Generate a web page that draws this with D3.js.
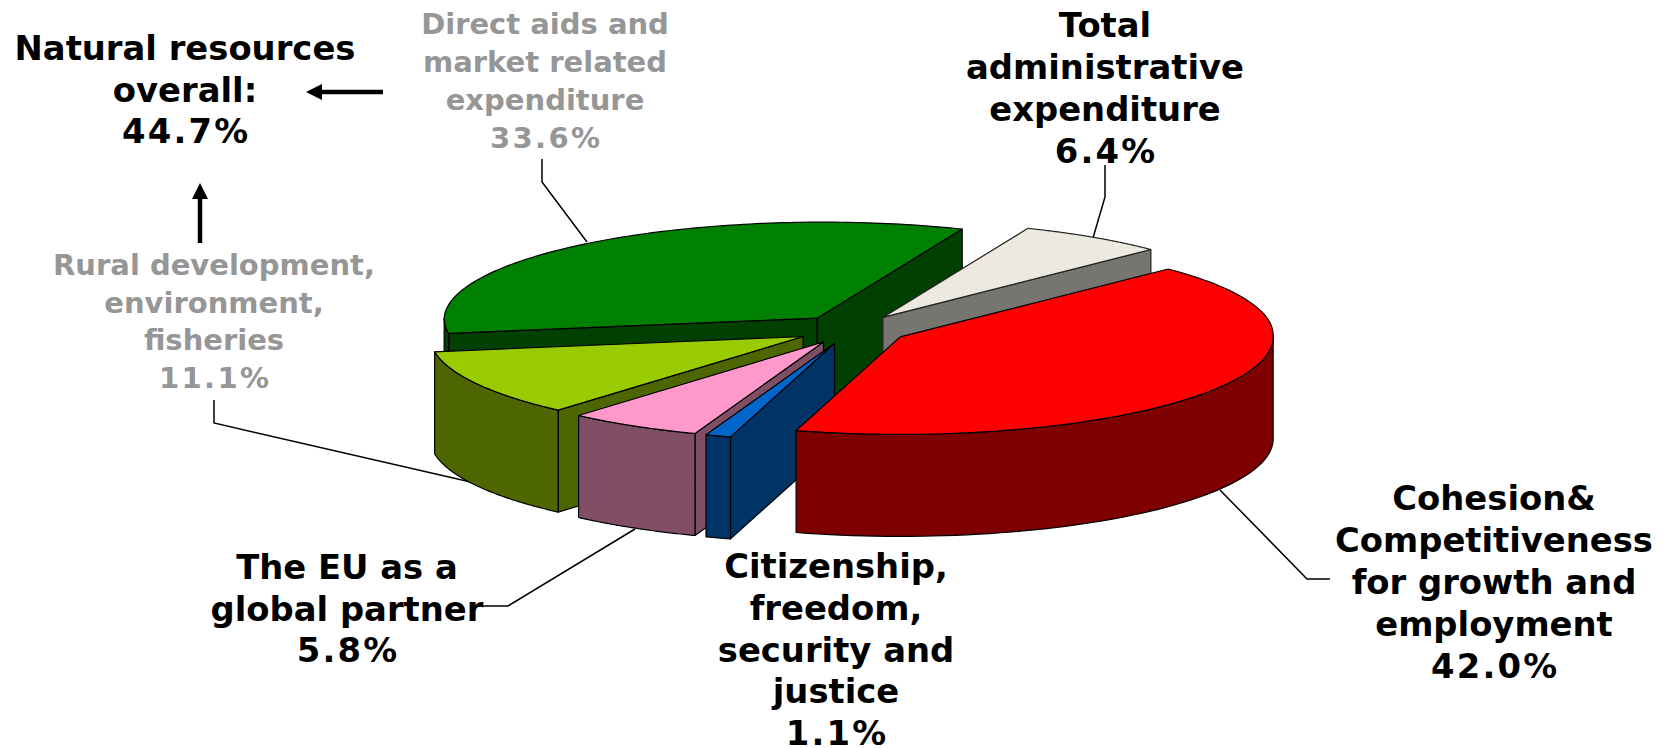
<!DOCTYPE html>
<html>
<head>
<meta charset="utf-8">
<script src="https://cdnjs.cloudflare.com/ajax/libs/d3/7.8.5/d3.min.js"></script>
<style>
html,body{margin:0;padding:0;background:#fff;}
svg{display:block;}
text{font-family:"DejaVu Sans",Verdana,sans-serif;font-weight:bold;text-anchor:middle;}
</style>
</head>
<body>
<svg id="c" width="1669" height="748"></svg>
<script>
// ---- data ----
const categories = [
  "Cohesion& Competitiveness for growth and employment",
  "Citizenship, freedom, security and justice",
  "The EU as a global partner",
  "Rural development, environment, fisheries",
  "Direct aids and market related expenditure",
  "Total administrative expenditure"
];
const values = [42.0, 1.1, 5.8, 11.1, 33.6, 6.4];
const overallLabel = ["Natural resources", "overall:"];
const overallValue = 44.7;
const labelLines = [
  ["Cohesion&", "Competitiveness", "for growth and", "employment"],
  ["Citizenship,", "freedom,", "security and", "justice"],
  ["The EU as a", "global partner"],
  ["Rural development,", "environment,", "fisheries"],
  ["Direct aids and", "market related", "expenditure"],
  ["Total", "administrative", "expenditure"]
];
// ---- styles ----
const topColors  = ["#ff0000", "#0066cc", "#ff99cc", "#99cc00", "#008000", "#eceadf"];
const sideColors = ["#7f0000", "#003366", "#804f66", "#4d6600", "#004000", "#767570"];
const textColors = ["#000", "#000", "#000", "#969696", "#969696", "#000"];
// ---- layout ----
const W = 1669, H = 748;
const cx = 852, cy = 329.5, rx = 373, ryBack = 96, ryFront = 97.5, depth = 102, explode = 0.15;
const backShift = 6;
const labelBoxes = [
  {x:1494, y:510, lh:42},
  {x:836,  y:578, lh:41.8},
  {x:347,  y:579, lh:41.5},
  {x:214,  y:275, lh:37.7, size:29},
  {x:545,  y:34,  lh:38,   size:29},
  {x:1105, y:37,  lh:42}
];
const leaders = [
  [[1220,490],[1307,579],[1330,579]],
  [[483,606],[508,606],[635,529]],
  [[214,400],[214,423],[475,483]],
  [[542,159],[542,182],[587,242]],
  [[1105,165],[1105,197],[1093,238]]
];
const deg = d3.scaleLinear().domain([0,360]).range([0,2*Math.PI]);
const svg = d3.select("#c");
const line = d3.line();
const pie = d3.pie().sort(null).startAngle(deg(45)).endAngle(deg(405));
const arcs = pie(values);

// leader lines go underneath the pie
svg.append("g").selectAll("path").data(leaders).join("path")
  .attr("d", d => line(d)).attr("fill","none").attr("stroke","#000").attr("stroke-width",1.5);

// project a ground-plane point (pie angle) on the picture, slice pulled out along its middle
function projector(d){
  const mid = (d.startAngle + d.endAngle)/2;
  const ox = rx*explode*Math.sin(mid), oy = -(ryBack+ryFront)/2*explode*Math.cos(mid);
  const apex = [cx + ox, cy + oy];
  const p = (a) => {
    const c = Math.cos(a);
    const ry = c > 0 ? ryBack : ryFront;
    return [apex[0] + rx*Math.sin(a) + backShift*Math.max(0,c), apex[1] - ry*c];
  };
  return {apex, p};
}
const drawOrder = [4, 5, 3, 2, 1, 0];
const g = svg.append("g").attr("stroke-linejoin","round");
drawOrder.forEach(i => {
  const d = arcs[i], {apex, p} = projector(d);
  const down = q => [q[0], q[1] + depth];
  const slice = g.append("g");
  const stroke = i === 5 ? "#222" : "#000";
  const paint = (path, fill) => slice.append("path").attr("d", path).attr("fill", fill)
      .attr("stroke", stroke).attr("stroke-width", 1.2);

  // cut faces that look toward the viewer
  if (Math.sin(d.startAngle) < 0) {
    const e = p(d.startAngle);
    paint(line([apex, e, down(e), down(apex)]) + "Z", sideColors[i]);
  }
  if (Math.sin(d.endAngle) > 0) {
    const e = p(d.endAngle);
    paint(line([apex, e, down(e), down(apex)]) + "Z", sideColors[i]);
  }
  // outer wall, front half only
  const a0 = Math.max(d.startAngle, deg(90)), a1 = Math.min(d.endAngle, deg(270));
  if (a1 > a0) {
    const steps = d3.range(0, 61).map(t => a0 + (a1-a0)*t/60);
    const edge = steps.map(p);
    paint(line(edge.concat(edge.map(down).reverse())) + "Z", sideColors[i]);
  }
  // top face
  const steps = d3.range(0, 121).map(t => d.startAngle + (d.endAngle-d.startAngle)*t/120);
  paint(line([apex].concat(steps.map(p))) + "Z", topColors[i]);
});

// labels
const fmt = v => d3.format(".1f")(v) + "%";
function block(lines, value, box, color){
  const size = box.size || 33.8;
  lines.forEach((s,k) => svg.append("text").attr("fill", color).attr("font-size", size)
      .attr("x", box.x).attr("y", box.y + k*box.lh).text(s));
  const sp = size < 30 ? 2.4 : 2.2;
  svg.append("text").attr("fill", color).attr("font-size", size)
      .attr("letter-spacing", sp)
      .attr("x", box.x + sp/2).attr("y", box.y + lines.length*box.lh).text(fmt(value));
}
labelLines.forEach((lines,i) => block(lines, values[i], labelBoxes[i], textColors[i]));
block(overallLabel, overallValue, {x:185, y:60, lh:41.5}, "#000");

// arrows
svg.append("path").attr("d", line([[383,92],[318,92]])).attr("stroke","#000").attr("stroke-width",4.5);
svg.append("path").attr("d", line([[306,92],[322,84],[322,100]])+"Z").attr("fill","#000");
svg.append("path").attr("d", line([[200,243],[200,195]])).attr("stroke","#000").attr("stroke-width",4.5);
svg.append("path").attr("d", line([[200,183],[192,199],[208,199]])+"Z").attr("fill","#000");
</script>
</body>
</html>
